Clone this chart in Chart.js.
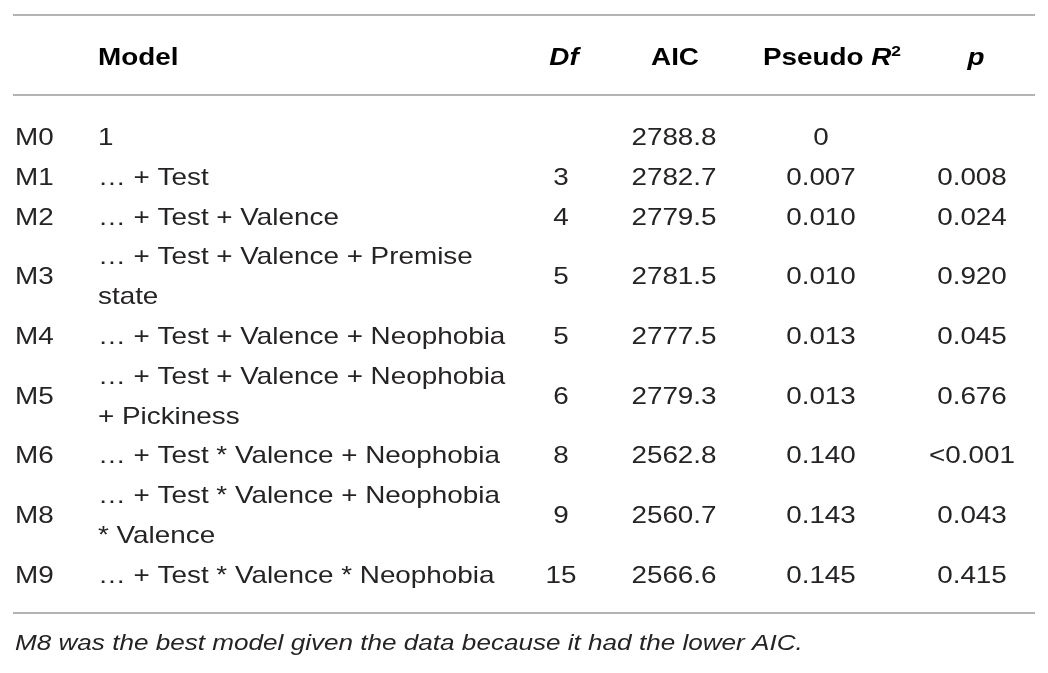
<!DOCTYPE html>
<html lang="en">
<head>
    <meta charset="UTF-8">
    <script src="https://cdn.jsdelivr.net/npm/chart.js"></script>
    <title>Model comparison</title>
    <style>
        html, body { margin: 0; padding: 0; background: #fff; }
        #wrap { width: 1048px; height: 673px; }
    </style>
</head>
<body>
    <div id="wrap">
        <canvas id="myChart"></canvas>
    </div>

    <script>
        // table content
        const modelIds = ['M0', 'M1', 'M2', 'M3', 'M4', 'M5', 'M6', 'M8', 'M9'];
        const modelTerms = [
            ['1'],
            ['… + Test'],
            ['… + Test + Valence'],
            ['… + Test + Valence + Premise', 'state'],
            ['… + Test + Valence + Neophobia'],
            ['… + Test + Valence + Neophobia', '+ Pickiness'],
            ['… + Test * Valence + Neophobia'],
            ['… + Test * Valence + Neophobia', '* Valence'],
            ['… + Test * Valence * Neophobia']
        ];
        const dfValues = [null, 3, 4, 5, 5, 6, 8, 9, 15];
        const aicValues = [2788.8, 2782.7, 2779.5, 2781.5, 2777.5, 2779.3, 2562.8, 2560.7, 2566.6];
        const pseudoR2 = [0, 0.007, 0.010, 0.010, 0.013, 0.013, 0.140, 0.143, 0.145];
        const pValues = [null, '0.008', '0.024', '0.920', '0.045', '0.676', '<0.001', '0.043', '0.415'];
        const footnote = 'M8 was the best model given the data because it had the lower AIC.';

        // layout (x in px-like units, y in text lines)
        const FONT = '"Liberation Sans", Arial, sans-serif';
        const STRETCH = 1.16;
        const TEXT = '#262324';
        const colX = { id: 15, model: 98, df: 561, aic: 674, r2: 821, p: 972 };
        const headX = { model: 98, df: 564, aic: 675, r2: 832, p: 976 };
        const headerLine = -2.01;
        const footLine = 12.69;
        const ruleLines = [-3.266, -1.256, 11.76];

        // row start line and middle line
        const rowStart = [];
        const rowMid = [];
        let line = 0;
        modelTerms.forEach(t => {
            rowStart.push(line);
            rowMid.push(line + (t.length - 1) / 2);
            line += t.length;
        });

        function cells(col, values, fmt) {
            const pts = [], txt = [];
            values.forEach((v, i) => {
                if (v === null) return;
                pts.push({ x: colX[col], y: rowMid[i] });
                txt.push(fmt ? fmt(v) : String(v));
            });
            return { pts, txt };
        }

        const termPts = [], termTxt = [];
        modelTerms.forEach((t, i) => t.forEach((s, k) => {
            termPts.push({ x: colX.model, y: rowStart[i] + k });
            termTxt.push(s);
        }));

        const ids = cells('id', modelIds);
        const df = cells('df', dfValues);
        const aic = cells('aic', aicValues, v => v.toFixed(1));
        const r2 = cells('r2', pseudoR2, v => v === 0 ? '0' : v.toFixed(3));
        const pv = cells('p', pValues);

        const bold = '700 24px ' + FONT;
        const boldIt = 'italic 700 24px ' + FONT;
        const headerParts = [
            [{ t: 'Model', f: bold }],
            [{ t: 'Df', f: boldIt }],
            [{ t: 'AIC', f: bold }],
            [{ t: 'Pseudo ', f: bold }, { t: 'R', f: boldIt }, { t: '2', f: '700 15px ' + FONT, dy: -9 }],
            [{ t: 'p', f: boldIt }]
        ];
        const headerPts = ['model', 'df', 'aic', 'r2', 'p'].map(k => ({ x: headX[k], y: headerLine }));
        const headerAlign = ['left', 'center', 'center', 'center', 'center'];

        const body = '400 24px ' + FONT;
        function ds(label, pts, txt, font, align, color) {
            return { label, data: pts, cellText: txt, font, align, color: color || TEXT, pointRadius: 0, showLine: false };
        }

        const tableText = {
            id: 'tableText',
            afterDatasetsDraw(chart) {
                const ctx = chart.ctx;
                chart.data.datasets.forEach((d, di) => {
                    const meta = chart.getDatasetMeta(di);
                    meta.data.forEach((el, i) => {
                        let parts = d.cellText[i];
                        if (typeof parts === 'string') parts = [{ t: parts, f: d.font }];
                        const align = Array.isArray(d.align) ? d.align[i] : d.align;
                        ctx.save();
                        ctx.translate(el.x, el.y);
                        ctx.scale(STRETCH, 1);
                        ctx.fillStyle = d.color;
                        ctx.textBaseline = 'alphabetic';
                        ctx.textAlign = 'left';
                        let total = 0;
                        parts.forEach(p => { ctx.font = p.f; p.w = ctx.measureText(p.t).width; total += p.w; });
                        let x = align === 'center' ? -total / 2 : 0;
                        parts.forEach(p => {
                            ctx.font = p.f;
                            ctx.fillText(p.t, x, p.dy || 0);
                            x += p.w;
                        });
                        ctx.restore();
                    });
                });
            }
        };

        const tableRules = {
            id: 'tableRules',
            beforeDatasetsDraw(chart) {
                const ctx = chart.ctx;
                const xs = chart.scales.x, ys = chart.scales.y;
                ctx.save();
                ctx.strokeStyle = '#9a9a9a';
                ctx.lineWidth = 1.5;
                ruleLines.forEach(v => {
                    const y = ys.getPixelForValue(v);
                    ctx.beginPath();
                    ctx.moveTo(xs.getPixelForValue(13), y);
                    ctx.lineTo(xs.getPixelForValue(1035), y);
                    ctx.stroke();
                });
                ctx.restore();
            }
        };

        const ctx = document.getElementById('myChart').getContext('2d');
        new Chart(ctx, {
            type: 'scatter',
            data: {
                datasets: [
                    ds('header', headerPts, headerParts, bold, headerAlign, '#000'),
                    ds('id', ids.pts, ids.txt, body, 'left'),
                    ds('model', termPts, termTxt, body, 'left'),
                    ds('df', df.pts, df.txt, body, 'center'),
                    ds('aic', aic.pts, aic.txt, body, 'center'),
                    ds('r2', r2.pts, r2.txt, body, 'center'),
                    ds('p', pv.pts, pv.txt, body, 'center'),
                    ds('note', [{ x: colX.id, y: footLine }], [footnote], 'italic 400 22.5px ' + FONT, 'left')
                ]
            },
            options: {
                responsive: true,
                maintainAspectRatio: false,
                animation: false,
                events: [],
                layout: { padding: 0 },
                scales: {
                    x: { type: 'linear', display: false, min: 0, max: 1048 },
                    y: { type: 'linear', display: false, reverse: true, min: -3.643, max: 13.266 }
                },
                plugins: {
                    legend: { display: false },
                    tooltip: { enabled: false }
                }
            },
            plugins: [tableRules, tableText]
        });
    </script>
</body>
</html>
